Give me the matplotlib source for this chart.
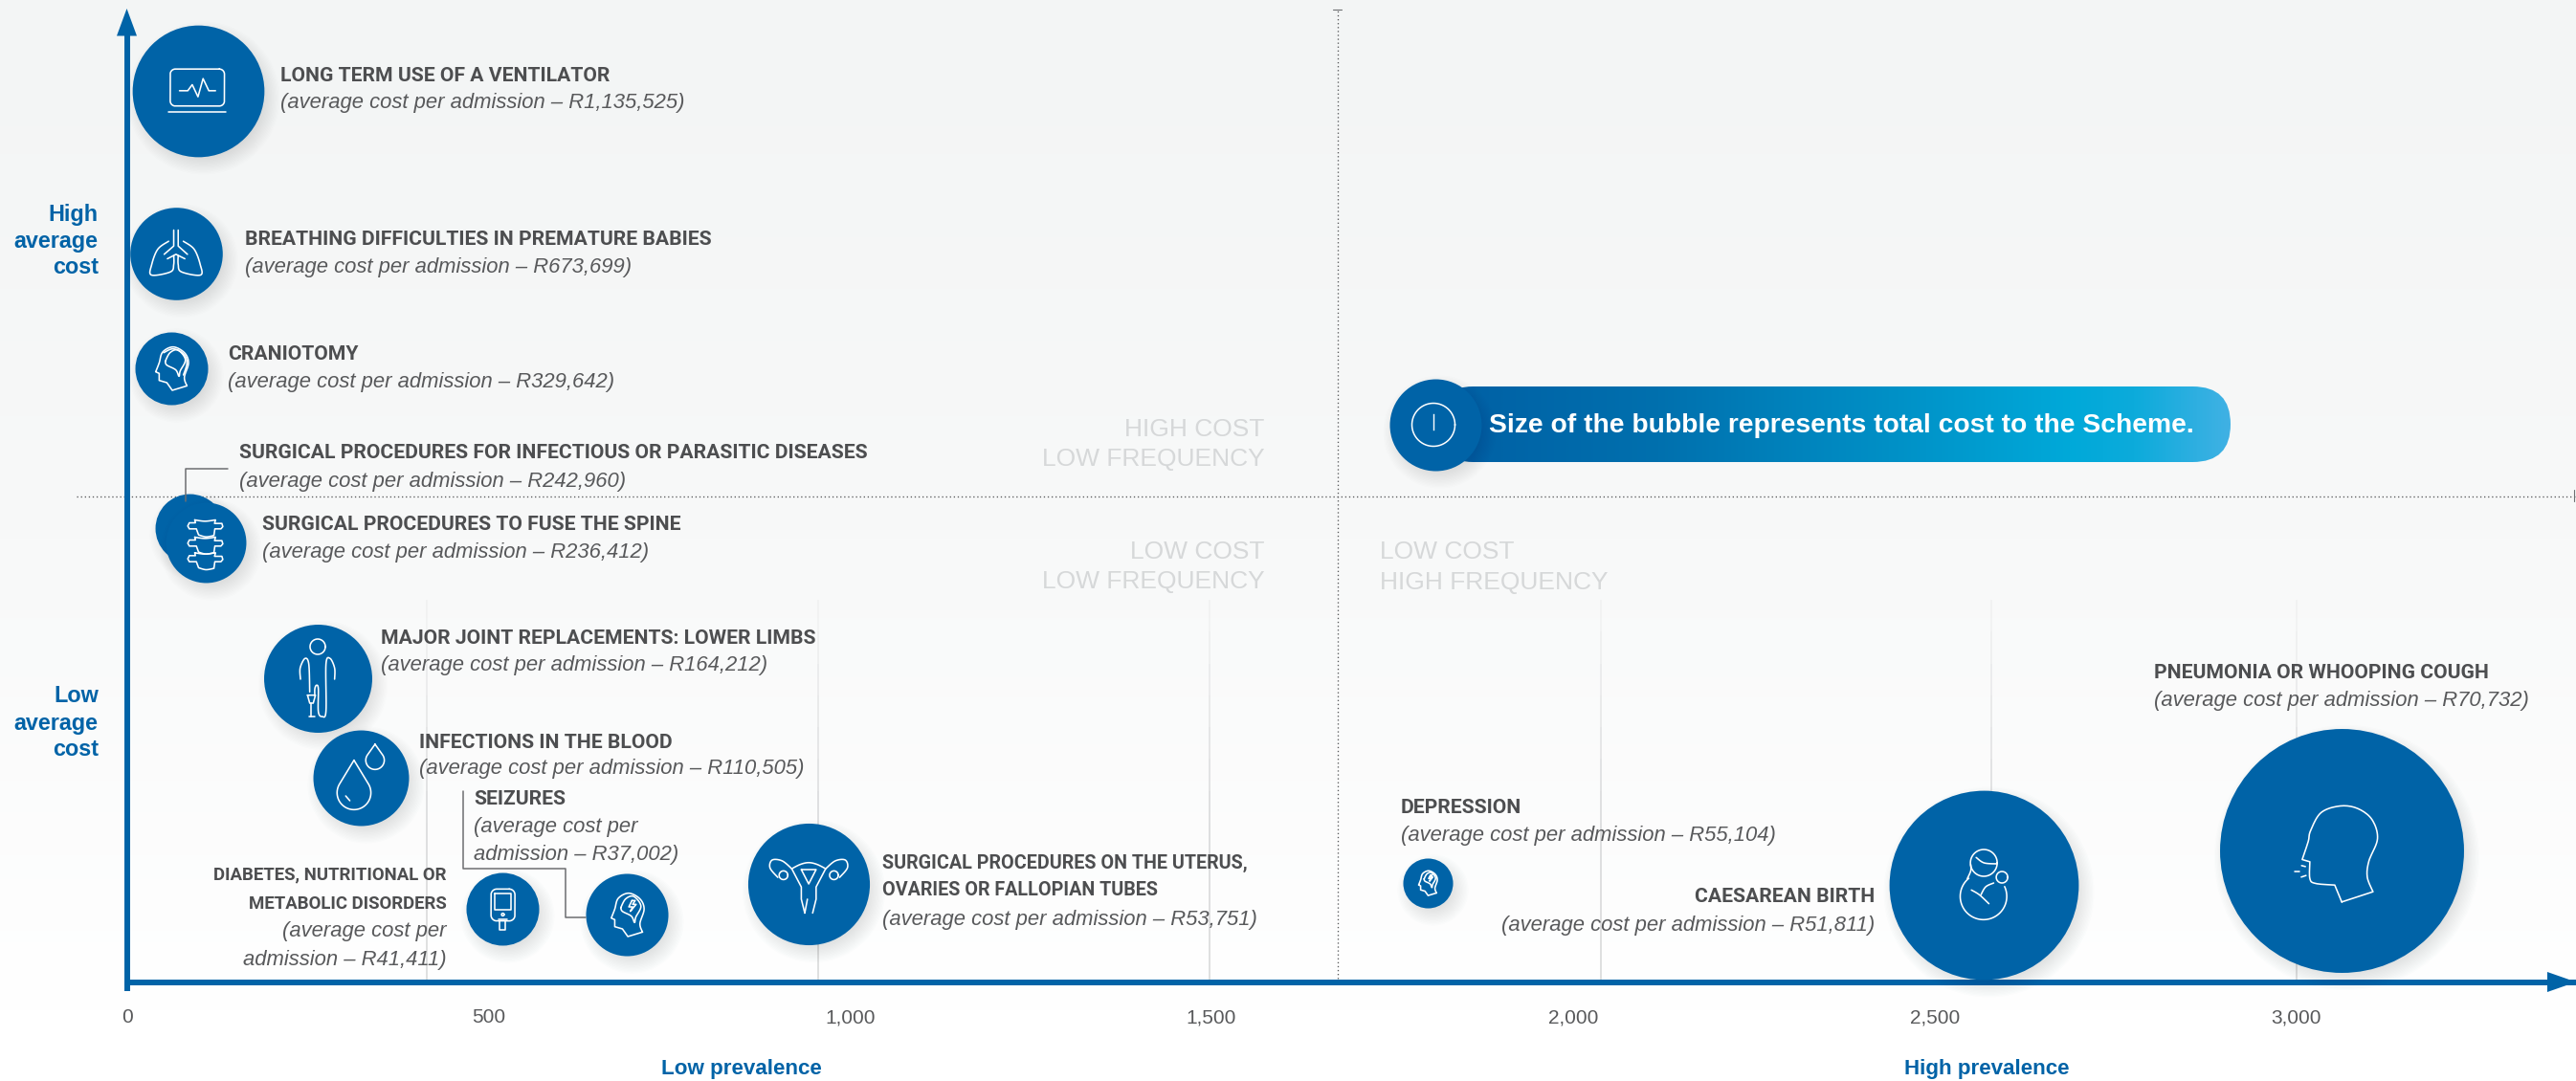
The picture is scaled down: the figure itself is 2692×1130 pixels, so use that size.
import numpy as np
import matplotlib
matplotlib.use("Agg")
import matplotlib.pyplot as plt
from matplotlib.colors import LinearSegmentedColormap
from matplotlib.lines import Line2D
from matplotlib.patches import FancyBboxPatch, Polygon
from matplotlib.transforms import Affine2D

# ---- data -------------------------------------------------------------
names = ["ventilator", "breathing", "craniotomy", "infectious", "spine", "joint",
         "blood", "diabetes", "seizures", "uterus", "depression", "caesarean", "pneumonia"]
prevalence = [98, 68, 62, 87, 109, 264, 323, 520, 692, 943, 1799, 2568, 3063]
average_cost = [1135525, 673699, 329642, 242960, 236412, 164212, 110505,
                41411, 37002, 53751, 55104, 51811, 70732]
total_cost_rm = [63, 31, 19.2, 17.2, 23.4, 42.4, 33.2, 19.2, 24.6, 53.7, 9, 130, 216]

x_ticks = [0, 500, 1000, 1500, 2000, 2500, 3000]
x_tick_labels = ["0", "500", "1,000", "1,500", "2,000", "2,500", "3,000"]
grid_prevalence = [415, 956, 1497, 2038, 2578, 3000]
split_prevalence = 1674
split_cost = 260000

# cost axis is a stretched, piecewise scale (cost -> height above the baseline)
scale_cost = [0, 37002, 41411, 51811, 53751, 55104, 70732, 110505, 164212,
              236412, 242960, 329642, 673699, 1135525, 1700000]
scale_height = [0, 70.5, 76.5, 101.5, 102.5, 103.5, 138, 213.5, 317.5,
                460, 474.5, 641.5, 762, 932, 1026.5]

W, H = 2692, 1130
BASE = 1026.5
BLUE = "#0063a7"
DARK = "#4d4e50"
SOFT = "#58595b"
QUAD = "#d6d8d9"

plt.rcParams["font.family"] = ["Liberation Sans"]

fig = plt.figure(figsize=(W / 100, H / 100), dpi=100)
PX = Affine2D().scale(1 / W, -1 / H).translate(0, 1) + fig.transFigure

# ---- backdrop: vertical wash and the legend pill ----------------------
bg = fig.add_axes([0, 0, 1, 1], zorder=0)
wash = LinearSegmentedColormap.from_list("wash", ["#f3f5f5", "#f8f9f9", "#ffffff"])
bg.imshow(np.linspace(0, 1, 256).reshape(-1, 1) ** 1.1, cmap=wash, aspect="auto",
          extent=(0, W, 1060, 0), vmin=0, vmax=1)
pill_map = LinearSegmentedColormap.from_list(
    "pill", [(0, "#005fa4"), (0.28, "#0070ae"), (0.8, "#00a9d9"), (0.88, "#0cabdb"), (1, "#40b1e4")])
pill = bg.imshow(np.linspace(0, 1, 512).reshape(1, -1), cmap=pill_map, aspect="auto",
                 extent=(1500, 2331, 483, 404))
clip = FancyBboxPatch((1500, 404), 831, 79, boxstyle="round,pad=0,rounding_size=39.5",
                      transform=bg.transData, fc="none", ec="none")
bg.add_patch(clip)
pill.set_clip_path(clip)
bg.set_xlim(0, W)
bg.set_ylim(H, 0)
bg.axis("off")

# ---- main axes: baseline at the x axis, left edge at the y axis -------
ax = fig.add_axes([132.5 / W, (H - BASE) / H, (W - 132.5) / W, BASE / H], zorder=1)
ax.patch.set_alpha(0)


def to_height(c):
    return np.interp(c, scale_cost, scale_height)


def to_cost(h):
    return np.interp(h, scale_height, scale_cost)


ax.set_yscale("function", functions=(to_height, to_cost))
ax.set_xlim(0, (W - 132.5) / 0.7557)
ax.set_ylim(0, 1700000)
ax.set_yticks([])
ax.minorticks_off()
ax.set_xticks(x_ticks, x_tick_labels)
ax.tick_params(axis="x", length=0, pad=20, labelsize=15, labelcolor=SOFT)
for side in ("top", "right"):
    ax.spines[side].set_visible(False)
for side in ("left", "bottom"):
    ax.spines[side].set_color(BLUE)
    ax.spines[side].set_linewidth(4.3)
ax.spines["left"].set_bounds(0, to_cost(BASE - 32))
ax.spines["bottom"].set_capstyle("butt")

# gridlines fade out towards their upper ends
fade_edges = np.linspace(BASE - 627, 0, 13)
for j in range(12):
    ax.vlines(grid_prevalence, to_cost(fade_edges[j + 1]), to_cost(fade_edges[j]),
              color="#d9dadb", lw=1.2, alpha=min(1.0, 0.25 + 0.12 * j), zorder=1)
ax.hlines(split_cost, -69, ax.get_xlim()[1], color="#58595b", lw=0.95,
          linestyles=(0, (1, 2.1)), clip_on=False, zorder=1)
ax.vlines(split_prevalence, 0, to_cost(BASE - 10), color="#58595b", lw=0.95,
          linestyles=(0, (1, 2.1)), zorder=1)


def stroke(xs, ys, color="#6d6e71", lw=1.1, zorder=3, tr=PX, **kw):
    fig.add_artist(Line2D(xs, ys, color=color, lw=lw, zorder=zorder, transform=tr,
                          solid_capstyle=kw.pop("cap", "round"), solid_joinstyle="round", **kw))


# axis arrowheads and the stub below the origin
for pts in ([(122, 37.5), (143, 37.5), (132.5, 9)], [(2662, 1016), (2662, 1037), (2692, 1026.5)]):
    fig.add_artist(Polygon(pts, closed=True, fc=BLUE, ec="none", transform=PX, zorder=3))
stroke([132.5, 132.5], [1026, 1036], color=BLUE, lw=4.3, cap="butt")
stroke([1393, 1402], [10, 10], lw=0.8)
stroke([2690, 2690], [512, 524], lw=0.8)


# ---- icon geometry ----------------------------------------------------
def smooth(*points, n=10):
    """Catmull-Rom curve through the points."""
    p = np.array(points, float)
    q = np.vstack([p[0], p, p[-1]])
    out = []
    for i in range(1, len(q) - 2):
        for t in np.linspace(0, 1, n, endpoint=False):
            a = 2 * q[i] + (q[i + 1] - q[i - 1]) * t
            b = (2 * q[i - 1] - 5 * q[i] + 4 * q[i + 1] - q[i + 2]) * t ** 2
            c = (3 * q[i] - q[i - 1] - 3 * q[i + 1] + q[i + 2]) * t ** 3
            out.append(0.5 * (a + b + c))
    out.append(p[-1])
    return np.array(out)


def arc(cx, cy, r, start=0, stop=360):
    t = np.radians(np.linspace(start, stop, 60))
    return np.column_stack([cx + r * np.cos(t), cy + r * np.sin(t)])


def line(*points):
    return np.array(points, float)


def rounded(x0, y0, x1, y1, r):
    return np.vstack([arc(x1 - r, y0 + r, r, -90, 0), arc(x1 - r, y1 - r, r, 0, 90),
                      arc(x0 + r, y1 - r, r, 90, 180), arc(x0 + r, y0 + r, r, 180, 270),
                      [[x1 - r, y0]]])


def drop(cx, cy, r, tip):
    half = np.degrees(np.arccos(r / (cy - tip)))
    body = arc(cx, cy, r, -90 + half, 270 - half)
    return np.vstack([[[cx, tip]], body, [[cx, tip]]])


def shift(points, dx=0, dy=0):
    return np.array(points) + [dx, dy]


def head_outline():
    return np.vstack([
        smooth((573, 222), (565, 195), (578, 150), (565, 118), (530, 100), (497, 116), (486, 150), (475, 178)),
        line((475, 178), (486, 183), (486, 205), (510, 212), (527, 236), (573, 222))])


def mirror(points, axis):
    p = np.array(points, float)
    return np.column_stack([2 * axis - p[:, 0], p[:, 1]])


vent = [rounded(143, 156, 313, 272, 16), line((138, 291), (318, 291)),
        line((172, 224), (198, 224), (212, 205), (230, 243), (246, 186), (264, 224), (285, 224))]

lung_l = smooth((139, 697), (105, 722), (86, 770), (85, 803), (145, 793), (155, 770), (155, 742))
lungs = [lung_l, mirror(lung_l, 162), line((155, 662), (155, 712), (125, 738)),
         line((169, 662), (169, 712), (198, 738)), line((135, 752), (162, 738), (190, 752))]

brain = smooth((505, 145), (520, 118), (545, 110), (568, 140), (552, 175), (548, 192), (538, 172), (510, 157), (505, 145))
crani = [head_outline(), brain,
         smooth((500, 118), (530, 106), (562, 122), (573, 150), (562, 188))]

seizure = [head_outline(), brain,
           line((540, 123), (530, 143), (542, 143), (535, 157), (553, 135), (542, 135), (550, 123), (540, 123))]

vertebra = np.vstack([smooth((220, 311), (252, 315), (285, 311)),
                      line((282, 322), (305, 322), (308, 332), (302, 339), (283, 339), (280, 360)),
                      smooth((280, 360), (255, 364), (232, 358)),
                      line((225, 339), (203, 339), (198, 330), (203, 320), (222, 320), (220, 311))])
spine = [vertebra, shift(vertebra, 0, 54), shift(vertebra, 0, 103)]

joint = [arc(185, 108, 24),
         smooth((131, 210), (130, 175), (145, 145), (157, 162), (160, 250)),
         smooth((238, 210), (238, 175), (224, 145), (211, 162), (211, 310), (199, 327), (187, 312), (187, 240), (181, 229), (176, 240), (176, 262)),
         line((153, 260), (178, 260), (171, 285), (160, 285), (153, 260)),
         line((165, 285), (165, 328)), line((157, 328), (177, 328))]

blood = [drop(298, 565, 53, 463), drop(364, 463, 29, 413), line((272, 575), (285, 590))]

meter = [rounded(100, 88, 175, 188, 18), line((111, 103), (162, 103), (162, 153), (111, 153), (111, 103)),
         arc(137, 168, 4), line((125, 183), (150, 183)), line((128, 188), (128, 215), (146, 215), (146, 188))]

tube = smooth((150, 1090), (128, 1072), (105, 1070), (100, 1088), (118, 1110))
uterus = [tube, mirror(tube, 189), arc(131, 1105, 10), arc(247, 1105, 10),
          smooth((150, 1090), (170, 1080), (189, 1076), (208, 1080), (228, 1090)),
          line((150, 1090), (172, 1132), (172, 1160), (180, 1192)),
          line((228, 1090), (206, 1132), (206, 1160), (198, 1192)), line((180, 1192), (186, 1160)),
          line((172, 1092), (206, 1092), (189, 1125), (172, 1092))]

face = [np.vstack([line((440, 578), (538, 546)),
                   smooth((538, 546), (520, 500), (525, 450), (552, 380), (535, 320), (490, 285), (435, 277), (375, 298), (342, 355), (335, 388), (316, 445)),
                   line((316, 445), (340, 452)),
                   smooth((340, 452), (340, 505), (358, 520), (418, 525)),
                   line((418, 525), (440, 578))]),
        line((292, 482), (308, 482)), line((314, 464), (326, 467)), line((313, 500), (328, 495))]

birth = [arc(309, 245, 42), smooth((285, 228), (310, 245), (350, 248)),
         smooth((268, 250), (268, 270), (257, 295)), arc(366, 290, 18),
         arc(308, 350, 73, -25, 231),
         smooth((270, 330), (295, 345), (325, 373)), smooth((300, 345), (315, 320), (340, 308))]

# icon strokes, their drawing origin and scale for each bubble
icons = {
    "ventilator": (vent, (229, 223), 1 / 3),
    "breathing": (lungs, (162, 734), 1 / 3),
    "craniotomy": (crani, (525, 167), 1 / 3),
    "spine": (spine, (254, 380), 1 / 3),
    "joint": (joint, (185, 207), 1 / 3),
    "blood": (blood, (318, 518), 1 / 3),
    "diabetes": (meter, (137, 150), 1 / 3),
    "seizures": (seizure, (525, 167), 1 / 3),
    "uterus": (uterus, (189, 1125), 1 / 2.2),
    "depression": (seizure, (525, 167), 0.19),
    "caesarean": (birth, (309, 314), 1 / 3),
    "pneumonia": (face, (440, 415), 1 / 3),
}

# ---- bubbles ----------------------------------------------------------
SIZE = 156
for i, name in enumerate(names):
    px, cost = prevalence[i], average_cost[i]
    s = total_cost_rm[i] * SIZE
    radius_pt = np.sqrt(s)
    for grow in np.linspace(18, 0, 14):
        off = ax.transData + Affine2D().translate(5, -7)
        ax.scatter([px], [cost], s=(radius_pt + grow * 0.72 * 2 - 10) ** 2, color="#50555a", alpha=0.011,
                   lw=0, clip_on=False, zorder=4 + 0.1 * i, transform=off)
    ax.scatter([px], [cost], s=s, color=BLUE, lw=0, clip_on=False, zorder=4 + 0.1 * i + 0.05)
    if name in icons:
        strokes, origin, k = icons[name]
        cx, cy = ax.transData.transform((px, cost))
        tr = Affine2D().translate(-origin[0], -origin[1]).scale(k, -k).translate(cx, cy)
        for part in strokes:
            ax.add_artist(Line2D(part[:, 0], part[:, 1], color="white", lw=1.15, transform=tr,
                                 solid_capstyle="round", solid_joinstyle="round",
                                 zorder=4 + 0.1 * i + 0.07, clip_on=False))

# ---- legend bubble ----------------------------------------------------
for grow in np.linspace(18, 0, 14):
    bg.scatter([1504], [451], s=(2 * (48 + grow - 7) * 0.72) ** 2, color="#50555a", alpha=0.011, lw=0, zorder=5)
bg.scatter([1499.5], [444], s=(2 * 48 * 0.72) ** 2, color=BLUE, lw=0, zorder=6)
bg.add_artist(Line2D(*arc(1498, 444, 22.5).T, color="white", lw=1.1, zorder=7))
bg.add_artist(Line2D([1498, 1498], [433, 449], color="white", lw=1.0, zorder=7))
bg.set_xlim(0, W)
bg.set_ylim(H, 0)


# ---- text -------------------------------------------------------------
def put(x, y, s, **kw):
    kw.setdefault("va", "center")
    return ax.text(x, y, s, transform=PX, zorder=20, clip_on=False, **kw)


def title(x, y, s, ha="left", size=15.2):
    put(x, y + 1, s, ha=ha, fontsize=size, fontweight="bold", family="Roboto", color=DARK)


def detail(x, y, s, ha="left"):
    put(x, y, s, ha=ha, fontsize=15.8, style="italic", color=SOFT)


def cost_text(v):
    return f"(average cost per admission – R{v:,})"


by_name = dict(zip(names, average_cost))

title(293, 78.6, "LONG TERM USE OF A VENTILATOR")
detail(293, 108, cost_text(by_name["ventilator"]))
title(256, 249, "BREATHING DIFFICULTIES IN PREMATURE BABIES")
detail(256, 279, cost_text(by_name["breathing"]))
title(238, 370, "CRANIOTOMY")
detail(238, 399, cost_text(by_name["craniotomy"]))
title(250, 472.5, "SURGICAL PROCEDURES FOR INFECTIOUS OR PARASITIC DISEASES")
detail(250, 503, cost_text(by_name["infectious"]))
title(273.5, 547.5, "SURGICAL PROCEDURES TO FUSE THE SPINE")
detail(273.5, 577, cost_text(by_name["spine"]))
title(397.5, 666.5, "MAJOR JOINT REPLACEMENTS: LOWER LIMBS")
detail(397.5, 696, cost_text(by_name["joint"]))
title(437.7, 775.6, "INFECTIONS IN THE BLOOD")
detail(437.7, 803, cost_text(by_name["blood"]))
title(495.4, 834.5, "SEIZURES")
detail(495.4, 864.7, "(average cost per")
detail(495.4, 893.8, f"admission – R{by_name['seizures']:,})")
title(466.8, 913.8, "DIABETES, NUTRITIONAL OR", ha="right", size=13.4)
title(466.8, 943.6, "METABOLIC DISORDERS", ha="right", size=13.4)
detail(466.8, 973.5, "(average cost per", ha="right")
detail(466.8, 1003.3, f"admission – R{by_name['diabetes']:,})", ha="right")
title(921.6, 901.4, "SURGICAL PROCEDURES ON THE UTERUS,", size=14.2)
title(921.6, 930, "OVARIES OR FALLOPIAN TUBES", size=14.2)
detail(921.6, 961, cost_text(by_name["uterus"]))
title(1463.9, 843.8, "DEPRESSION")
detail(1463.9, 874, cost_text(by_name["depression"]))
title(1959.6, 936.6, "CAESAREAN BIRTH", ha="right")
detail(1959.6, 967.6, cost_text(by_name["caesarean"]), ha="right")
title(2250.7, 702.8, "PNEUMONIA OR WHOOPING COUGH")
detail(2250.7, 732.3, cost_text(by_name["pneumonia"]))

for x, y, s, ha in [(1321.6, 449, "HIGH COST", "right"), (1321.6, 480.5, "LOW FREQUENCY", "right"),
                    (1321.6, 577, "LOW COST", "right"), (1321.6, 608, "LOW FREQUENCY", "right"),
                    (1442.5, 577, "LOW COST", "left"), (1442.5, 609, "HIGH FREQUENCY", "left")]:
    put(x, y, s, ha=ha, fontsize=19, color=QUAD)

for y, s in [(225, "High"), (252.5, "average"), (279, "cost"),
             (728, "Low"), (756, "average"), (783, "cost")]:
    put(102.8, y, s, ha="right", fontsize=16.8, fontweight="bold", color=BLUE)
put(775, 1118, "Low prevalence", ha="center", fontsize=16.1, fontweight="bold", color=BLUE)
put(2076, 1118, "High prevalence", ha="center", fontsize=16.1, fontweight="bold", color=BLUE)
put(1556, 444.5, "Size of the bubble represents total cost to the Scheme.", ha="left",
    fontsize=20.3, fontweight="bold", color="white")

# leader lines from labels to their bubbles
stroke([238, 194, 194], [490, 490, 524], zorder=30)
stroke([484, 484, 591, 591, 612], [826.5, 908, 908, 959, 959], zorder=30)

fig.savefig("out.png", dpi=100)
